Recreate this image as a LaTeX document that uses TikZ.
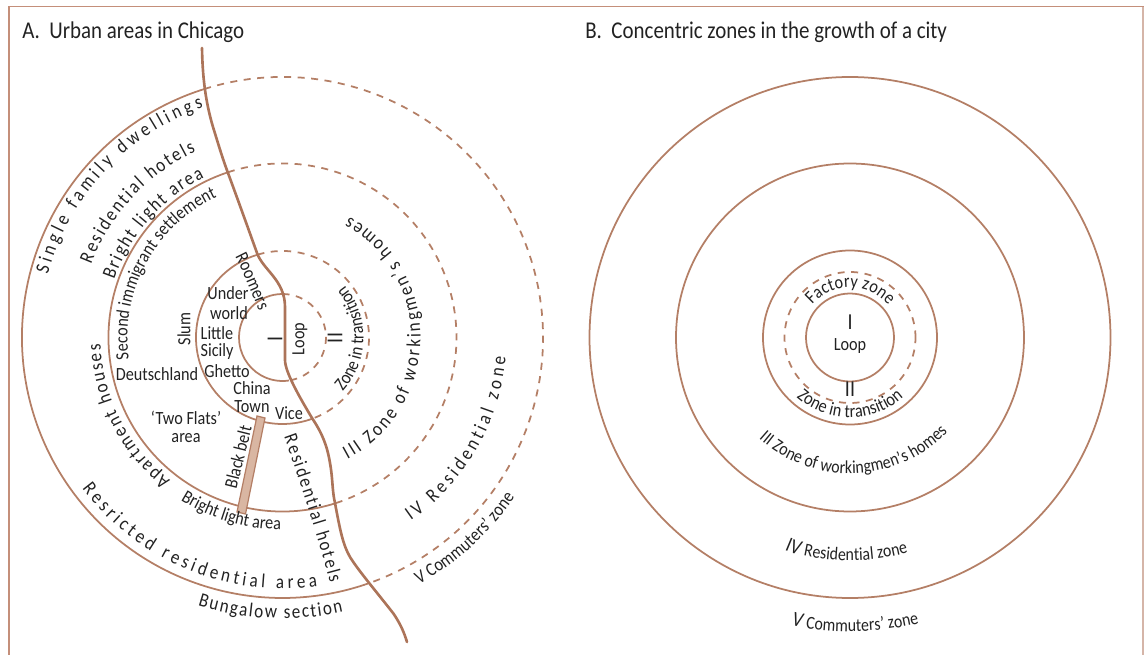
\documentclass[tikz,border=0pt]{standalone}
\usepackage{fontspec}
\setmainfont[FakeStretch=0.87]{Carlito}
\usetikzlibrary{decorations.text}
\definecolor{zone}{HTML}{B47F66}
\definecolor{frameC}{HTML}{C48F7A}
\definecolor{frameR}{HTML}{D5B5A8}
\definecolor{river}{HTML}{AC7459}
\definecolor{beltC}{HTML}{D9B6A2}
\definecolor{ink}{HTML}{222222}
\tikzset{
 zonesolid/.style={draw=zone,line width=1pt},
 zonedash/.style={draw=zone,line width=1pt,dash pattern=on 4pt off 3.7pt},
 lbl/.style={font=\fontsize{10.6}{11}\selectfont,text=ink,inner sep=0pt},
 numeral/.style={font=\fontsize{13}{14}\selectfont,text=ink,inner sep=0pt},
 ttl/.style={font=\fontsize{13.7}{14}\selectfont,text=ink,inner sep=0pt,anchor=west},
}
% \arclabel{cx}{cy}{r}{start}{end}{text}{size}
\newcommand{\arclabel}[7]{%
 \path[postaction={decorate,decoration={text along path,text align=fit to path,
   text={|\fontsize{#7}{#7}\selectfont\color{ink}|#6||}}}]
   (#1,#2) ++(#4:#3) arc[start angle=#4,end angle=#5,radius=#3];}
% \numlabel{cx}{cy}{r}{start}{end}{numeral}{text}: larger italic numeral, then the text
\newcommand{\numlabel}[7]{%
 \path[postaction={decorate,decoration={text along path,text align=fit to path,
   text={|\fontsize{12}{12}\itshape\selectfont\color{ink}|#6 |||\fontsize{10.4}{11}\selectfont\color{ink}|#7||}}}]
   (#1,#2) ++(#4:#3) arc[start angle=#4,end angle=#5,radius=#3];}
\begin{document}
\begin{tikzpicture}[x=0.02cm,y=0.02cm]
\useasboundingbox (0,0) rectangle (1144,-655);
\draw[frameR,line width=0.8pt] (1143,-7) -- (1143,-655);
\draw[frameC,line width=0.9pt] (9,-655) -- (9,-6.5) -- (1144,-6.5);
\coordinate (A) at (282.5,-337.5);
\coordinate (B) at (850,-337.5);
\node[ttl] (t1) at (22,-32) {A.\ \ Urban areas in Chicago};
\node[ttl] (t2) at (585,-32) {B.\ \ Concentric zones in the growth of a city};
% A zones
\foreach \r/\a/\b in {260.5/107.5/-70.8,174/108.3/-72.4,86.5/106.8/-69.9,43.5/90/-81.5}{
 \draw[zonesolid] (A) ++(\a:\r) arc[start angle=\a,end angle=360+\b,radius=\r];
 \draw[zonedash] (A) ++(\a:\r) arc[start angle=\a,end angle=\b,radius=\r];
}
% river
\draw[river,line width=1.5pt,line cap=round] (202,-48) .. controls (202.5,-75) and (205,-100) .. (213,-127)
 .. controls (218,-143) and (222,-157) .. (228,-173)
 .. controls (238,-200) and (248,-228) .. (257,-253)
 .. controls (263,-270) and (285,-280) .. (285,-307)
 -- (285,-360) .. controls (285,-372) and (300,-398) .. (312,-418)
 .. controls (322,-433) and (327,-445) .. (330,-463)
 .. controls (333,-480) and (332,-490) .. (335,-503)
 .. controls (340,-530) and (343,-545) .. (350,-557)
 .. controls (358,-570) and (375,-590) .. (393,-613)
 .. controls (400,-623) and (404,-632) .. (407,-642);
% belt
\draw[draw=zone,fill=beltC,line width=0.7pt] (257,-416) -- (265,-418) -- (245.5,-514) -- (237,-512) -- cycle;
% curved A
\arclabel{282.5}{-337.5}{243}{165}{109}{Single family dwellings}{11.2}
\arclabel{282.5}{-337.5}{205}{159}{115}{Residential hotels}{11.2}
\arclabel{282.5}{-337.5}{178}{161}{116}{Bright light area}{11.2}
\arclabel{282.5}{-337.5}{155}{188}{115}{Second immigrant settlement}{10.6}
\arclabel{282.5}{-337.5}{182}{232}{182}{Apartment houses}{11.2}
\arclabel{282.5}{-337.5}{251}{217}{278}{Resricted residential area}{11.2}
\arclabel{282.5}{-337.5}{281}{252.5}{282.5}{Bungalow section}{11.2}
\arclabel{282.5}{-337.5}{192}{238}{269.5}{Bright light area}{10.6}
\arclabel{282.5}{-337.5}{81}{-42}{38}{Zone in transition}{10.6}
\arclabel{282.5}{-337.5}{138}{-62}{61}{III Zone of workingmen's homes}{11.2}
\arclabel{282.5}{-337.5}{224}{-55}{-5}{IV Residential zone}{11.2}
\arclabel{282.5}{-337.5}{282}{-61}{-34.5}{V Commuters' zone}{10.6}
\path[postaction={decorate,decoration={text along path,text align=fit to path,text={|\fontsize{11}{11}\selectfont\color{ink}|Residential hotels||}}}]
 (284,-437) .. controls (296,-470) and (316,-530) .. (330,-583);
\path[postaction={decorate,decoration={text along path,text align=fit to path,text={|\fontsize{10.6}{11}\selectfont\color{ink}|Roomers||}}}]
 (235,-257) .. controls (243,-272) and (251,-292) .. (259,-311);
% straight A
\node[lbl] (u1) at (228,-293) {Under};
\node[lbl] (u2) at (229,-313) {world};
\node[lbl,rotate=90] (slum) at (184,-329) {Slum};
\node[lbl] (lit) at (217,-333) {Little};
\node[lbl] (sic) at (217,-352) {Sicily};
\node[lbl] (ghe) at (227,-371) {Ghetto};
\node[lbl] (chi) at (252,-388) {China};
\node[lbl] (tow) at (252,-407) {Town};
\node[lbl] (vic) at (289,-413) {Vice};
\node[lbl] (deu) at (157,-374) {Deutschland};
\node[lbl] (two) at (186,-418) {‘Two Flats’};
\node[lbl] (are) at (186,-438) {area};
\node[lbl,rotate=76] (blk) at (238,-457) {Black belt};
\node[numeral,rotate=90] (one) at (275,-339) {I};
\node[lbl,rotate=90] (lo) at (300,-339) {Loop};
\node[numeral,rotate=90] (two2) at (335,-338) {II};
% B zones
\draw[zonesolid] (B) circle[radius=44];
\draw[zonedash] (B) circle[radius=65.5];
\draw[zonesolid] (B) circle[radius=87];
\draw[zonesolid] (B) circle[radius=174];
\draw[zonesolid] (B) circle[radius=260.5];
\node[numeral] (bi) at (850,-322) {I};
\node[lbl] (bl) at (850,-346) {Loop};
\node[numeral] (bii) at (850,-389) {II};
\arclabel{850}{-337.5}{50}{139}{40}{Factory zone}{10.6}
\arclabel{850}{-337.5}{80}{228}{312}{Zone in transition}{10.6}
\arclabel{850}{-337.5}{136}{228}{316}{III Zone of workingmen's homes}{10.4}
\numlabel{850}{-337.5}{223}{253}{285}{IV}{Residential zone}
\numlabel{850}{-337.5}{294}{258.5}{283.5}{V}{Commuters' zone}
\end{tikzpicture}
\end{document}
